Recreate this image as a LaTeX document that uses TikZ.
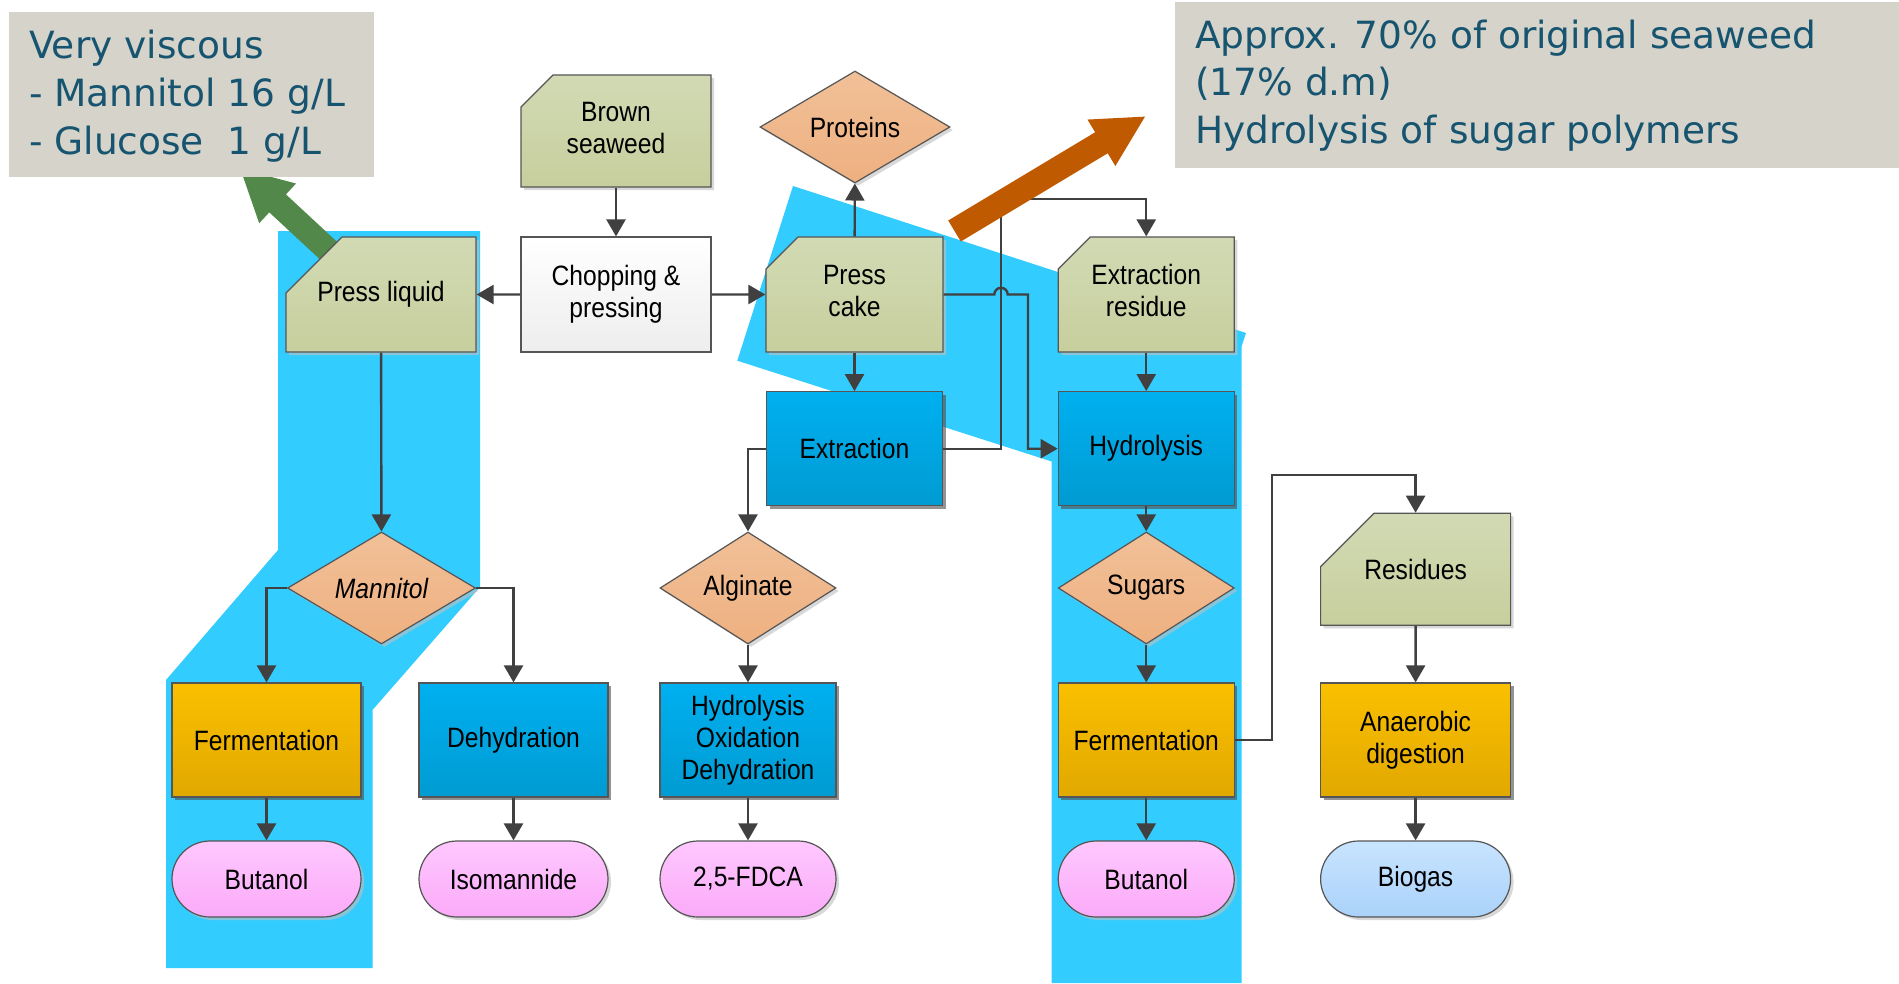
\documentclass[tikz,border=0pt]{standalone}
\usepackage{fontspec}
\setmainfont{Liberation Sans}[FakeStretch=0.88]
\newfontfamily\notefont{DejaVu Sans}
\usetikzlibrary{arrows.meta,shapes.misc,shapes.geometric,shadows}
\definecolor{hl}{RGB}{51,204,255}
\definecolor{notebg}{RGB}{214,211,202}
\definecolor{notetxt}{RGB}{22,84,112}
\definecolor{edge}{RGB}{85,85,85}
\definecolor{flowgray}{RGB}{64,64,64}
\definecolor{leaf}{RGB}{82,136,74}
\definecolor{rust}{RGB}{192,90,0}
\definecolor{cardtop}{RGB}{210,218,180}
\definecolor{cardbot}{RGB}{199,207,158}
\definecolor{bluetop}{RGB}{0,176,240}
\definecolor{bluebot}{RGB}{0,155,210}
\definecolor{ambtop}{RGB}{250,192,0}
\definecolor{ambbot}{RGB}{225,168,0}
\definecolor{peachtop}{RGB}{241,192,152}
\definecolor{peachbot}{RGB}{238,176,128}
\definecolor{pinktop}{RGB}{255,200,255}
\definecolor{pinkbot}{RGB}{250,170,248}
\definecolor{skytop}{RGB}{200,228,255}
\definecolor{skybot}{RGB}{170,210,250}
\begin{document}
\begin{tikzpicture}[x=1pt,y=-1pt,
    every node/.style={font=\fontsize{28}{32}\selectfont,align=center,inner sep=0pt},
    darkshade/.style={drop shadow={shadow xshift=3pt,shadow yshift=-3pt,fill=black!70,opacity=.6}},
    softshade/.style={drop shadow={shadow xshift=3pt,shadow yshift=-3pt,fill=black!25,opacity=.6}},
    card/.style={chamfered rectangle,chamfered rectangle corners=north west,
        chamfered rectangle xsep=46pt,chamfered rectangle ysep=43pt,
        draw=edge,line width=1.2pt,top color=cardtop,bottom color=cardbot,softshade},
    plainbox/.style={rectangle,draw=edge,line width=1.2pt,top color=white,bottom color=black!7},
    process/.style={rectangle,draw=edge,line width=1.2pt,minimum height=114pt,
        top color=bluetop,bottom color=bluebot,darkshade},
    ferment/.style={rectangle,draw=edge,line width=1.2pt,minimum height=114pt,
        top color=ambtop,bottom color=ambbot,darkshade},
    product/.style={diamond,aspect=1.6,draw=edge,line width=1.2pt,minimum height=112pt,
        top color=peachtop,bottom color=peachbot,softshade},
    pill/.style={rounded rectangle,draw=edge,line width=1.2pt,minimum height=76pt,
        top color=pinktop,bottom color=pinkbot,softshade},
    flow/.style={draw=flowgray,line width=2.4pt,-{Triangle[width=19pt,length=17pt]}},
    bigarrow/.style={line width=24.5pt,-{Triangle[width=50pt,length=52pt]}},
    note/.style={font=\notefont\fontsize{37.5}{48}\selectfont,text=notetxt,anchor=base west}]
    \useasboundingbox (0,0) rectangle (1899,983);
    \fill[white] (0,0) rectangle (1899,983);
    % highlighted routes
    \fill[hl] (278,231) -- (480,231) -- (480,587) -- (372.5,710) -- (372.5,968) -- (166,968) -- (166,680) -- (278,550) -- cycle;
    \fill[hl] (793,186) -- (1246,333) -- (1241.7,346) -- (1241.7,983) -- (1051.7,983) -- (1051.7,461.5) -- (737.3,360.7) -- cycle;
    \coordinate (gtail) at (330,252);
    \coordinate (gtip) at (239.5,168);
    \draw[bigarrow,leaf] (gtail) -- (gtip);
    % top row
    \node[card,minimum width=190pt,minimum height=112pt] (seaweed) at (616,131) {\makebox[0pt]{\raisebox{-3pt}{\begin{tabular}{@{}c@{}}Brown\\seaweed\end{tabular}}}};
    \node[plainbox,minimum width=190pt,minimum height=115pt] (chop) at (616,294.5) {Chopping \&\\pressing};
    \node[card,minimum width=190pt,minimum height=115pt] (liquid) at (381,294.5) {Press liquid};
    \node[card,minimum width=177pt,minimum height=115pt] (cake) at (854.5,294.5) {\makebox[0pt]{\raisebox{-3pt}{\begin{tabular}{@{}c@{}}Press\\cake\end{tabular}}}};
    \node[card,minimum width=176pt,minimum height=115pt] (residue) at (1146.25,294.5) {\makebox[0pt]{\raisebox{-3pt}{\begin{tabular}{@{}c@{}}Extraction\\residue\end{tabular}}}};
    \node[product,minimum width=190pt] (proteins) at (855,127) {Proteins};
    % middle
    \node[process,minimum width=176pt] (extr) at (854.5,448.7) {Extraction};
    \node[process,minimum width=176pt] (hydro) at (1146.25,448.7) {Hydrolysis};
    \node[product,minimum width=188pt] (mannitol) at (381.5,588) {\itshape Mannitol};
    \node[product,minimum width=176pt] (alginate) at (748,588) {Alginate};
    \node[product,minimum width=176pt] (sugars) at (1146.25,588) {Sugars};
    \node[card,minimum width=190pt,minimum height=112pt] (residues) at (1415.6,569.3) {Residues};
    % conversion
    \node[ferment,minimum width=189pt] (ferm1) at (266.5,740) {Fermentation};
    \node[process,minimum width=189pt] (dehyd) at (513.5,740) {Dehydration};
    \node[process,minimum width=176pt] (hod) at (748,740) {Hydrolysis\\Oxidation\\Dehydration};
    \node[ferment,minimum width=176pt] (ferm2) at (1146.25,740) {Fermentation};
    \node[ferment,minimum width=190pt] (anaer) at (1415.6,740) {Anaerobic\\digestion};
    % products
    \node[pill,minimum width=189pt] (but1) at (266.5,879) {Butanol};
    \node[pill,minimum width=189pt] (iso) at (513.5,879) {Isomannide};
    \node[pill,minimum width=176pt] (fdca) at (748,879) {2,5-FDCA};
    \node[pill,minimum width=176pt] (but2) at (1146.25,879) {Butanol};
    \node[pill,minimum width=190pt,top color=skytop,bottom color=skybot] (biogas) at (1415.6,879) {Biogas};
    % connectors
    \coordinate (up) at (1001,199);
    \coordinate (turn) at (1272,475);
    \draw[flow] (seaweed) -- (chop);
    \draw[flow] (chop) -- (liquid);
    \draw[flow] (chop) -- (cake);
    \draw[flow] (cake) -- (proteins);
    \draw[flow] (cake) -- (extr);
    \draw[flow] (cake.east) -- ([xshift=-6.7pt]up |- cake.east) arc[start angle=180,end angle=360,radius=6.7] -- (1028,294.5) |- (hydro.west);
    \draw[flow] (extr.east) -| (up) -| (residue.north);
    \draw[flow] (extr.west) -| (alginate.north);
    \draw[flow] (residue) -- (hydro);
    \draw[flow] (hydro) -- (sugars);
    \draw[flow] (sugars) -- (ferm2);
    \draw[flow] (ferm2) -- (but2);
    \draw[flow] (ferm2.east) -| (turn) -| (residues.north);
    \draw[flow] (residues) -- (anaer);
    \draw[flow] (anaer) -- (biogas);
    \draw[flow] (liquid) -- (mannitol);
    \draw[flow] (mannitol.west) -| (ferm1.north);
    \draw[flow] (mannitol.east) -| (dehyd.north);
    \draw[flow] (ferm1) -- (but1);
    \draw[flow] (dehyd) -- (iso);
    \draw[flow] (alginate) -- (hod);
    \draw[flow] (hod) -- (fdca);
    \coordinate (otail) at (954.5,231);
    \coordinate (otip) at (1146,116);
    \draw[bigarrow,rust] (otail) -- (otip);
    % notes
    \fill[notebg] (9,12) rectangle (374,177);
    \node[note] (viscous) at (29,58) {Very viscous};
    \node[note] (mannitolconc) at (29,106) {- Mannitol 16 g/L};
    \node[note] (glucoseconc) at (29,154) {- Glucose\ \ 1 g/L};
    \fill[notebg] (1175,2) rectangle (1899,168);
    \node[note] (approx) at (1195,48) {Approx. 70\% of original seaweed};
    \node[note] (drymatter) at (1195,95.5) {(17\% d.m)};
    \node[note] (sugarpoly) at (1195,143) {Hydrolysis of sugar polymers};
\end{tikzpicture}
\end{document}
